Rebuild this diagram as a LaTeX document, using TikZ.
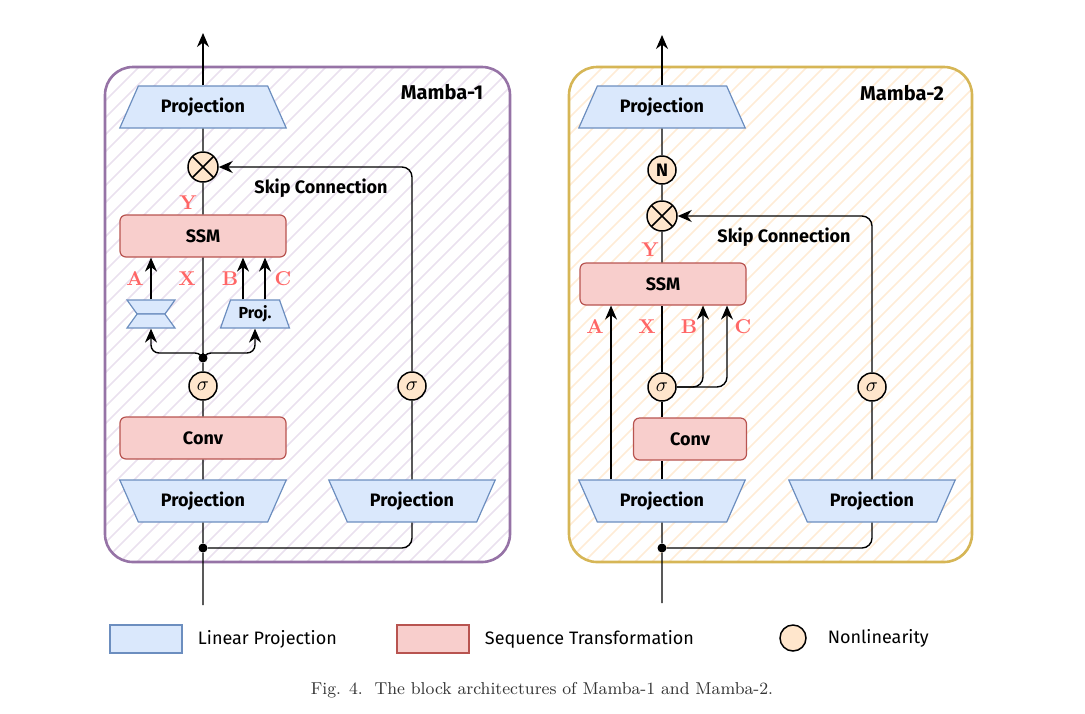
\documentclass[tikz,border=0pt]{standalone}
\usepackage{fontspec}
\setsansfont{Fira Sans}
\usetikzlibrary{shapes.geometric,arrows.meta,calc,positioning}

\definecolor{projfill}{HTML}{DAE8FC}
\definecolor{projdraw}{HTML}{6C8EBF}
\definecolor{seqfill}{HTML}{F8CECC}
\definecolor{seqdraw}{HTML}{B85450}
\definecolor{nlfill}{HTML}{FFE6CC}
\definecolor{monedraw}{HTML}{9673A6}
\definecolor{monehatch}{HTML}{EAE1EF}
\definecolor{mtwodraw}{HTML}{D6B656}
\definecolor{mtwohatch}{HTML}{FFECD6}
\definecolor{lblred}{HTML}{FF6666}

\tikzset{
  proj/.style={trapezium, trapezium stretches=true, trapezium angle=57,
    minimum width=83.5pt, minimum height=21pt, inner sep=0pt,
    fill=projfill, draw=projdraw, line width=0.6pt, font=\sffamily\bfseries\small},
  projdown/.style={proj, shape border rotate=180},
  hourglass/.style={inner sep=1pt, minimum width=24pt, minimum height=7pt, trapezium angle=70},
  seq/.style={rectangle, rounded corners=3pt, fill=seqfill, draw=seqdraw,
    line width=0.6pt, minimum width=83pt, minimum height=21pt, font=\sffamily\bfseries\small},
  nl/.style={circle, fill=nlfill, draw=black, line width=0.75pt, minimum size=14pt, inner sep=0pt},
  mult/.style={nl, minimum size=15pt, path picture={
    \draw[line width=0.75pt] (path picture bounding box.north west) -- (path picture bounding box.south east)
      (path picture bounding box.south west) -- (path picture bounding box.north east);}},
  dot/.style={circle, fill=black, inner sep=0pt, minimum size=4.5pt},
  lbl/.style={text=lblred, font=\bfseries},
  title/.style={font=\sffamily\bfseries},
  note/.style={font=\sffamily\bfseries\small},
  legbox/.style={rectangle, minimum width=36pt, minimum height=14pt, line width=0.9pt},
  legtxt/.style={font=\sffamily\small},
  conn/.style={line width=0.7pt},
  arr/.style={conn, -{Stealth[length=7pt,width=6pt]}},
}

\begin{document}
\begin{tikzpicture}[x=0.5pt,y=-0.5pt]
\useasboundingbox (0,0) rectangle (1085,713);

% frames with hatching
\begin{scope}
  \clip[rounded corners=14pt] (105,67) rectangle (510,562);
  \foreach \i in {-390,-373,...,510} \draw[monehatch, line width=0.8pt] (\i,562) -- ++(495,-495);
\end{scope}
\draw[monedraw, line width=1.3pt, rounded corners=14pt] (105,67) rectangle (510,562);
\begin{scope}
  \clip[rounded corners=14pt] (569,67) rectangle (972,562);
  \foreach \i in {74,91,...,972} \draw[mtwohatch, line width=0.8pt] (\i,562) -- ++(495,-495);
\end{scope}
\draw[mtwodraw, line width=1.3pt, rounded corners=14pt] (569,67) rectangle (972,562);

% Mamba-1
\node[title] (t1) at (442,92) {Mamba-1};
\node[proj] (pt1) at (203,107) {Projection};
\node[mult] (mul1) at (203,167) {};
\node[seq] (ssm1) at (203,236) {SSM};
\node[projdown, hourglass] (hga1) at (151,307) {};
\node[proj, hourglass] (hgb1) at (151,321) {};
\node[proj, minimum width=34.5pt, minimum height=14pt, trapezium angle=68, font=\sffamily\bfseries\footnotesize] (pj1) at (255,314) {Proj.};
\node[dot] (jm1) at (203,358) {};
\node[nl] (s1) at (203,386) {$\sigma$};
\node[seq] (cv1) at (203,438) {Conv};
\node[projdown] (pl1) at (203,501) {Projection};
\node[projdown] (pr1) at (412,501) {Projection};
\node[nl] (sr1) at (412,386) {$\sigma$};
\node[dot] (jb1) at (203,548) {};
\coordinate (in1) at (203,605);
\coordinate (out1) at (203,33);

\node[lbl] (ly1) at (188,203) {Y};
\node[lbl] (la1) at (135,279) {A};
\node[lbl] (lx1) at (187,279) {X};
\node[lbl] (lb1) at (230,279) {B};
\node[lbl] (lc1) at (283,279) {C};
\node[note] (sk1) at (321,188) {Skip Connection};

\draw[conn] (in1) -- (jb1) -- (pl1);
\draw[conn] (pl1) -- (cv1) -- (s1) -- (jm1) -- (ssm1) -- (mul1) -- (pt1);
\draw[arr] (pt1) -- (out1);
\draw[arr, rounded corners=4pt] (jm1) -- ++(0,-5) -| (hgb1);
\draw[arr, rounded corners=4pt] (jm1) -- ++(0,-5) -| (pj1);
\draw[arr] (hga1) -- (hga1 |- ssm1.south);
\draw[arr] ($(pj1.north)+(-12,0)$) -- ($(pj1.north |- ssm1.south)+(-12,0)$);
\draw[arr] ($(pj1.north)+(10,0)$) -- ($(pj1.north |- ssm1.south)+(10,0)$);
\draw[conn, rounded corners=5pt] (jb1) -| (pr1);
\draw[conn] (pr1) -- (sr1);
\draw[arr, rounded corners=5pt] (sr1) |- (mul1);

% Mamba-2
\node[title] (t2) at (902,93) {Mamba-2};
\node[proj] (pt2) at (662,107) {Projection};
\node[nl, font=\sffamily\bfseries\small] (nm2) at (662,170) {N};
\node[mult] (mul2) at (662,216) {};
\node[seq] (ssm2) at (663,284) {SSM};
\node[nl] (s2) at (662,387) {$\sigma$};
\node[seq, minimum width=56.5pt] (cv2) at (690,439) {Conv};
\node[projdown] (pl2) at (662,501) {Projection};
\node[projdown] (pr2) at (872,501) {Projection};
\node[nl] (sr2) at (872,387) {$\sigma$};
\node[dot] (jb2) at (662,548) {};
\coordinate (in2) at (662,603);
\coordinate (out2) at (662,35);

\node[lbl] (ly2) at (650,250) {Y};
\node[lbl] (la2) at (595,327) {A};
\node[lbl] (lx2) at (647,327) {X};
\node[lbl] (lb2) at (689,327) {B};
\node[lbl] (lc2) at (743,327) {C};
\node[note] (sk2) at (784,237) {Skip Connection};

\draw[conn] (in2) -- (jb2) -- (pl2);
\draw[conn] (pl2.north) -- (pl2.north |- cv2.south);
\draw[conn] (cv2.north -| s2) -- (s2) -- (ssm2.south -| s2);
\draw[conn] (ssm2.north -| mul2) -- (mul2) -- (nm2) -- (pt2);
\draw[arr] (pt2) -- (out2);
\draw[arr] ($(pl2.north)+(-51,0)$) -- ($(pl2.north |- ssm2.south)+(-51,0)$);
\draw[arr, rounded corners=5pt] (s2) -| ($(ssm2.south -| s2)+(41,0)$);
\draw[arr, rounded corners=5pt] (s2) -| ($(ssm2.south -| s2)+(65,0)$);
\draw[conn, rounded corners=5pt] (jb2) -| (pr2);
\draw[conn] (pr2) -- (sr2);
\draw[arr, rounded corners=5pt] (sr2) |- (mul2);

% legend
\node[legbox, fill=projfill, draw=projdraw] (lg1) at (146,639) {};
\node[legtxt, right=4pt of lg1] (lt1) {Linear Projection};
\node[legbox, fill=seqfill, draw=seqdraw] (lg2) at (433,639) {};
\node[legtxt, right=4pt of lg2] (lt2) {Sequence Transformation};
\node[nl, minimum size=13pt] (lg3) at (793,638) {};
\node[legtxt, right=7pt of lg3] (lt3) {Nonlinearity};

\node[font=\fontsize{8.6}{10}\selectfont, text=black!80] (cap) at (542,690) {Fig. 4.\ \ The block architectures of Mamba-1 and Mamba-2.};
\end{tikzpicture}
\end{document}
